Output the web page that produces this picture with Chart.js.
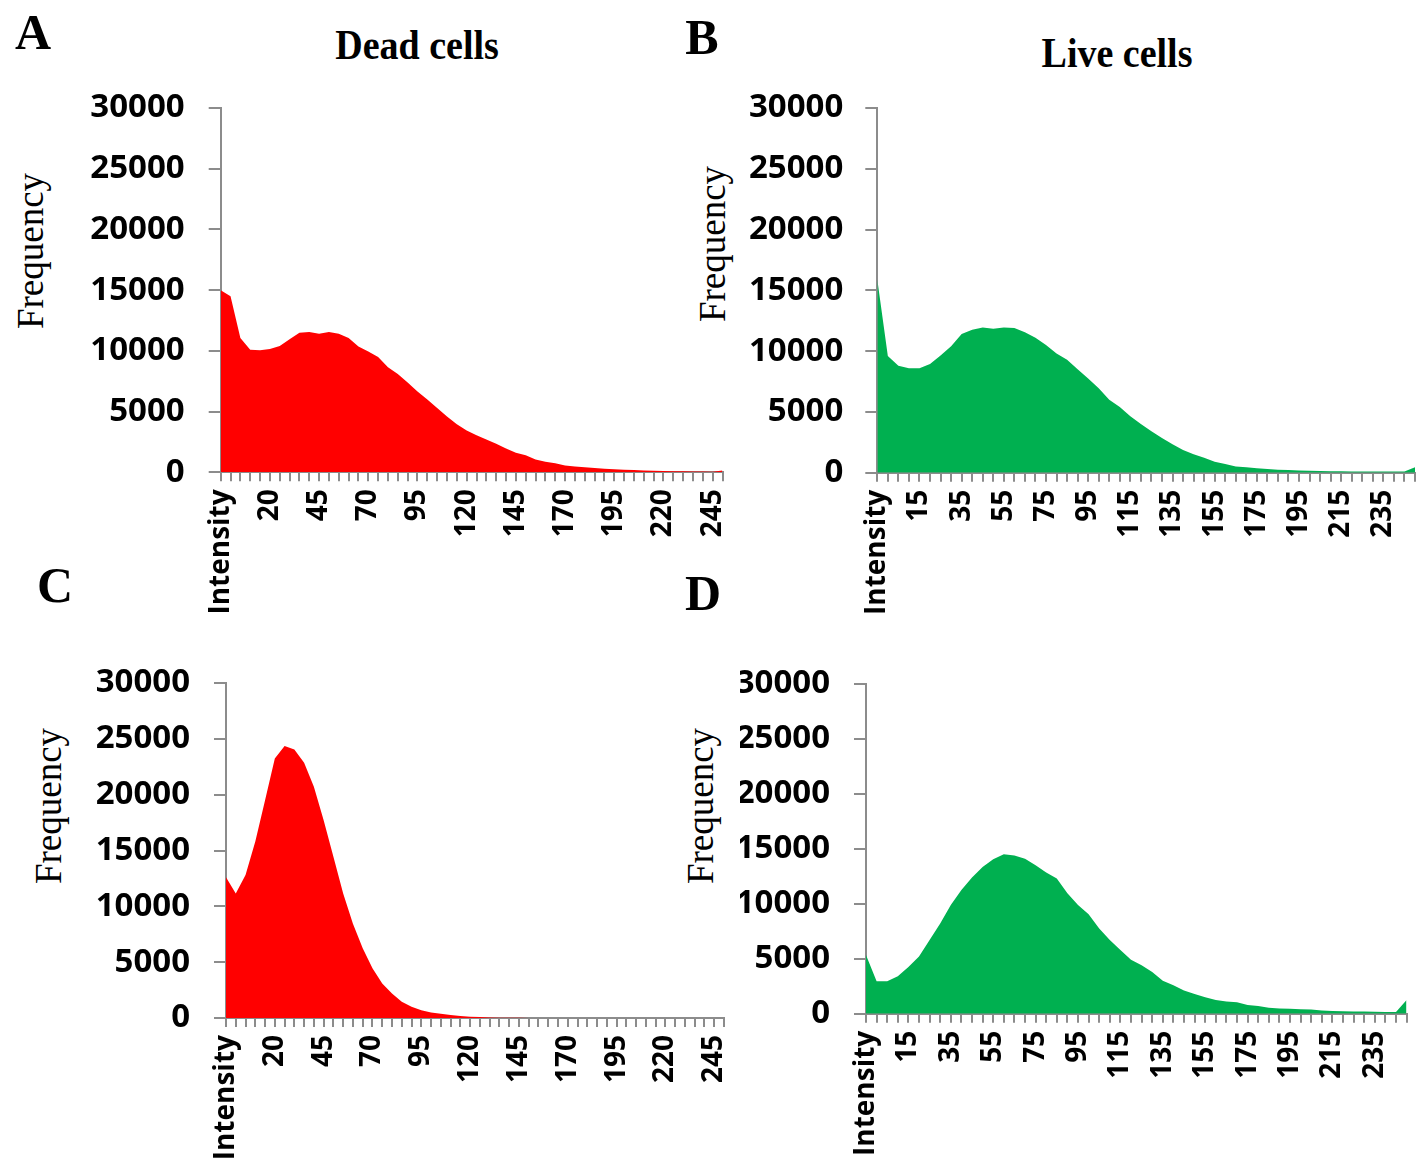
<!DOCTYPE html>
<html>
<head>
<meta charset="utf-8">
<script src="https://cdn.jsdelivr.net/npm/chart.js@4.4.0/dist/chart.umd.min.js"></script>
<style>
  body { margin: 0; background: #fff; width: 1417px; height: 1165px; position: relative; overflow: hidden; }
  canvas { position: absolute; }
  .letter { position: absolute; font-family: 'Liberation Serif', serif; font-weight: bold; font-size: 50px; line-height: 1; transform: translate(-50%, -50%); }
  .title { position: absolute; font-family: 'Liberation Serif', serif; font-weight: bold; font-size: 38px; line-height: 1; white-space: nowrap; transform: translate(-50%, -50%) scaleY(1.12); }
  .freq { position: absolute; font-family: 'Liberation Serif', serif; font-size: 37px; line-height: 1; white-space: nowrap; transform: translate(-50%, -50%) rotate(-90deg); }
</style>
</head>
<body>
<div class="letter" style="left:33px; top:32px">A</div>
<div class="letter" style="left:702px; top:37px">B</div>
<div class="letter" style="left:55px; top:585px">C</div>
<div class="letter" style="left:703px; top:593px">D</div>
<div class="title" style="left:417px; top:44px">Dead cells</div>
<div class="title" style="left:1117px; top:52px">Live cells</div>
<div class="freq" style="left:30px; top:251px">Frequency</div>
<div class="freq" style="left:712px; top:244px">Frequency</div>
<div class="freq" style="left:48px; top:806px">Frequency</div>
<div class="freq" style="left:700px; top:806px">Frequency</div>

<canvas id="chartA" width="740" height="545" style="left:0px; top:80px"></canvas>
<canvas id="chartB" width="677" height="545" style="left:740px; top:80px"></canvas>
<canvas id="chartC" width="740" height="535" style="left:0px; top:630px"></canvas>
<canvas id="chartD" width="677" height="535" style="left:740px; top:630px"></canvas>

<script>
// intensity bins (first row is the header cell that Excel kept as a category)
const intensity = ['Intensity', '0', '5', '10', '15', '20', '25', '30', '35', '40', '45',
  '50', '55', '60', '65', '70', '75', '80', '85', '90', '95',
  '100', '105', '110', '115', '120', '125', '130', '135', '140', '145',
  '150', '155', '160', '165', '170', '175', '180', '185', '190', '195',
  '200', '205', '210', '215', '220', '225', '230', '235', '240', '245', '250']

// A - dead cells
const deadA = [15000, 14500, 11050, 10100, 10050, 10150, 10400, 10950, 11500, 11550,
  11400, 11550, 11400, 11050, 10350, 9950, 9500, 8650, 8100, 7400,
  6650, 6000, 5300, 4600, 3950, 3450, 3050, 2700, 2350, 1950,
  1620, 1400, 1050, 870, 740, 560, 470, 410, 360, 290,
  250, 220, 180, 150, 120, 100, 90, 80, 70, 60,
  50, 150]

// B - live cells
const liveB = [15900, 9600, 8800, 8600, 8600, 8950, 9650, 10400, 11400, 11750,
  11950, 11850, 11950, 11900, 11550, 11100, 10500, 9800, 9300, 8500,
  7750, 6950, 6000, 5400, 4650, 4000, 3400, 2850, 2350, 1870,
  1510, 1240, 910, 710, 520, 440, 360, 300, 250, 220,
  190, 160, 140, 120, 110, 100, 100, 100, 100, 100,
  100, 450]

// C - dead cells
const deadC = [12600, 11150, 12800, 15800, 19500, 23250, 24350, 24050, 22850, 20700,
  17700, 14450, 11150, 8450, 6250, 4450, 3100, 2200, 1450, 1000,
  700, 500, 380, 270, 180, 120, 80, 50, 30, 20,
  15, 10, 10, 5, 5, 5, 0, 0, 0, 0,
  0, 0, 0, 0, 0, 0, 0, 0, 0, 0,
  0, 0]

// D - live cells
const liveD = [5350, 2950, 2950, 3400, 4250, 5200, 6700, 8200, 9900, 11250,
  12400, 13350, 14050, 14500, 14400, 14100, 13500, 12850, 12300, 10950,
  9900, 9050, 7750, 6700, 5800, 4900, 4400, 3800, 3000, 2600,
  2100, 1800, 1500, 1250, 1100, 1050, 800, 700, 550, 480,
  450, 400, 380, 300, 250, 220, 200, 190, 170, 160,
  150, 1250]

const red = '#FF0000'
const green = '#00B050'
const axisGray = '#8C8C8C'

function histChart(id, values, color, every, yWidth, xHeight, pad, yPad) {
  return new Chart(document.getElementById(id), {
    type: 'line',
    data: {
      labels: intensity,
      datasets: [{
        data: values,
        fill: 'origin',
        backgroundColor: color,
        borderColor: color,
        borderWidth: 0,
        pointRadius: 0,
        tension: 0
      }]
    },
    options: {
      responsive: false,
      animation: false,
      devicePixelRatio: 1,
      layout: { padding: pad },
      plugins: { legend: { display: false }, tooltip: { enabled: false } },
      scales: {
        x: {
          grid: { drawOnChartArea: false, color: axisGray, lineWidth: 2, tickLength: 9 },
          border: { color: axisGray, width: 2 },
          ticks: {
            autoSkip: false, minRotation: 90, maxRotation: 90, padding: 8, color: '#000',
            font: { family: 'Open Sans', size: 28, weight: 'bold' },
            callback: (v, i) => i % every === 0 ? intensity[i] : ''
          },
          afterFit: (s) => { s.height = xHeight; s.paddingLeft = 0; s.paddingRight = 0 }
        },
        y: {
          min: 0,
          max: 30000,
          grid: { drawOnChartArea: false, color: axisGray, lineWidth: 2, tickLength: 12 },
          border: { color: axisGray, width: 2 },
          ticks: {
            stepSize: 5000, padding: yPad, color: '#000',
            font: { family: 'Open Sans', size: 33, weight: 'bold' },
            callback: (v) => String(v)
          },
          afterFit: (s) => { s.width = yWidth; s.paddingTop = 0; s.paddingBottom = 0 }
        }
      }
    }
  })
}

histChart('chartA', deadA, red, 5, 220.7, 152.7, { top: 28, right: 17.5, left: 0, bottom: 0 }, 24)
histChart('chartB', liveB, green, 4, 137.3, 152.3, { top: 28, right: 2, left: 0, bottom: 0 }, 22)
histChart('chartC', deadC, red, 5, 226, 147, { top: 53, right: 16, left: 0, bottom: 0 }, 24)
histChart('chartD', liveD, green, 4, 126, 151.3, { top: 54, right: 10.4, left: 0, bottom: 0 }, 24)
</script>
</body>
</html>
